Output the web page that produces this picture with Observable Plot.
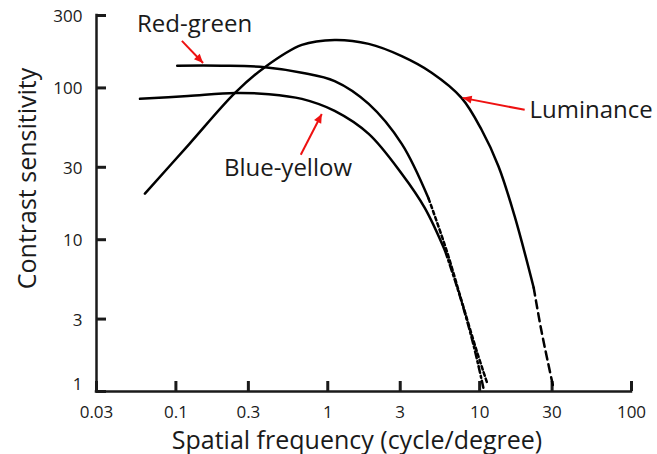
<!DOCTYPE html>
<html>
<head>
<meta charset="utf-8">
<script src="https://cdn.jsdelivr.net/npm/d3@7"></script>
<script src="https://cdn.jsdelivr.net/npm/@observablehq/plot@0.6"></script>
<style>
  html, body { margin: 0; padding: 0; background: #fff; }
</style>
</head>
<body>
<div id="chart"></div>
<script>
// ---- tick labels ----
const xTicks = [0.03, 0.1, 0.3, 1, 3, 10, 30, 100];
const yTicks = [1, 3, 10, 30, 100, 300];

// ---- Luminance (solid, then dashed extrapolation) ----
const luminanceFreq = [0.0625, 0.122, 0.245, 0.385, 0.675, 1.11, 1.86, 3.07, 4.83, 7.6, 10.3, 13.3, 17.0, 22.7];
const luminanceSens = [20.1, 42.5, 92.7, 137, 192, 207, 195, 162, 126, 86, 53, 30.5, 14.3, 4.83];
const luminanceTailFreq = [22.7, 25.5, 30.6];
const luminanceTailSens = [4.83, 2.52, 1.06];

// ---- Red-green ----
const redGreenFreq = [0.102, 0.2, 0.385, 0.675, 1.11, 1.86, 3.07, 4.62];
const redGreenSens = [140, 140, 137, 126, 111, 78.5, 42.8, 18.6];
const redGreenTailFreq = [4.62, 6.07, 7.6, 9.55, 11.3];
const redGreenTailSens = [18.6, 8.45, 3.97, 1.86, 1.11];

// ---- Blue-yellow ----
const blueYellowFreq = [0.058, 0.12, 0.245, 0.41, 0.675, 1.11, 1.86, 3.07, 4.35, 5.92];
const blueYellowSens = [84.7, 88.5, 92.7, 91, 84.7, 70.6, 49.8, 27.2, 16.2, 8.45];
const blueYellowTailFreq = [5.92, 7.4, 9.14, 10.6];
const blueYellowTailSens = [8.45, 4.28, 2.0, 1.05];

// ---- annotations (in data coordinates) ----
const labelNames = ["Red-green", "Blue-yellow", "Luminance"];
const labelFreq = [0.0554, 0.207, 21.3];
const labelSens = [262, 29.5, 71.1];
const arrowFromFreq = [0.1095, 0.664, 19.8];
const arrowFromSens = [204, 36.3, 71.7];
const arrowToFreq = [0.151, 0.913, 7.73];
const arrowToSens = [146, 67.4, 86];

const xTitle = "Spatial frequency (cycle/degree)";
const yTitle = "Contrast sensitivity";

// ---- build tables ----
const toRows = (series, xs, ys) => xs.map((x, i) => ({series, x, y: ys[i]}));
const solidRows = [
  ...toRows("Luminance", luminanceFreq, luminanceSens),
  ...toRows("Red-green", redGreenFreq, redGreenSens),
  ...toRows("Blue-yellow", blueYellowFreq, blueYellowSens)
];
const lumTail = toRows("Luminance", luminanceTailFreq, luminanceTailSens);
const rgTail = toRows("Red-green", redGreenTailFreq, redGreenTailSens);
const byTail = toRows("Blue-yellow", blueYellowTailFreq, blueYellowTailSens);
const labels = labelNames.map((name, i) => ({name, x: labelFreq[i], y: labelSens[i]}));
const arrows = labelNames.map((name, i) => ({
  name, x1: arrowFromFreq[i], y1: arrowFromSens[i], x2: arrowToFreq[i], y2: arrowToSens[i]
}));

const xMin = xTicks[0];
const yMin = yTicks[0];

// filled triangular arrowhead marker
function filledArrow(color) {
  const m = d3.create("svg:marker")
    .attr("viewBox", "-10 -5 10 10")
    .attr("markerWidth", 5)
    .attr("markerHeight", 5)
    .attr("orient", "auto")
    .attr("fill", color)
    .attr("stroke", "none");
  m.append("path").attr("d", "M-9,-4L0,0L-9,4Z");
  return m.node();
}

const W = 657, H = 454;
const mL = 96, mR = 26, mT = 15, mB = 63;
const tickLen = 10;
const axisStroke = 2.5;
const ink = "#1a1a1a";
const chart = Plot.plot({
  width: W,
  height: H,
  marginLeft: mL,
  marginRight: mR,
  marginTop: mT,
  marginBottom: mB,
  style: {fontFamily: "'Open Sans', sans-serif", color: ink, background: "#fff"},
  x: {type: "log", domain: [0.03, 100], axis: null},
  y: {type: "log", domain: [1, 300], axis: null},
  marks: [
    // axis lines
    Plot.ruleY([yMin], {strokeWidth: axisStroke, strokeLinecap: "square", stroke: ink}),
    Plot.ruleX([xMin], {strokeWidth: axisStroke, strokeLinecap: "square", stroke: ink}),
    // inward ticks (short ticks anchored to the axes)
    Plot.tickX(xTicks, {x: d => d, insetTop: (H - mT - mB) - tickLen, stroke: ink, strokeWidth: 3}),
    Plot.tickY(yTicks, {y: d => d, insetRight: (W - mL - mR) - tickLen, stroke: ink, strokeWidth: 3}),
    // tick labels
    Plot.text(xTicks, {x: d => d, y: yMin, text: d => String(d), dy: 21, fontSize: 17, lineAnchor: "middle", fill: ink}),
    Plot.text(yTicks.filter(d => d !== 1), {x: xMin, y: d => d, text: d => String(d), dx: -14, dy: 1, textAnchor: "end", fontSize: 17, lineAnchor: "middle", fill: ink}),
    Plot.text(yTicks.filter(d => d === 1), {x: xMin, y: d => d, text: d => String(d), dx: -14, dy: -7, textAnchor: "end", fontSize: 17, lineAnchor: "middle", fill: ink}),
    // curves
    Plot.line(solidRows, {x: "x", y: "y", z: "series", curve: "catmull-rom", stroke: "#000", strokeWidth: 2.5}),
    Plot.line(lumTail, {x: "x", y: "y", curve: "catmull-rom", stroke: "#000", strokeWidth: 2.5, strokeDasharray: "8,5"}),
    Plot.line(rgTail, {x: "x", y: "y", curve: "catmull-rom", stroke: "#000", strokeWidth: 2.5, strokeDasharray: "3.5,3"}),
    Plot.line(byTail, {x: "x", y: "y", curve: "catmull-rom", stroke: "#000", strokeWidth: 2.5, strokeDasharray: "7,3,2,3"}),
    // annotations
    Plot.link(arrows, {x1: "x1", y1: "y1", x2: "x2", y2: "y2", stroke: "#ee1111", strokeWidth: 2, markerEnd: filledArrow}),
    Plot.text(labels, {x: "x", y: "y", text: "name", textAnchor: "start", lineAnchor: "middle", fontSize: 24, fill: ink}),
    // axis titles
    Plot.text([xTitle], {text: d => d, frameAnchor: "bottom", textAnchor: "middle", dy: 49, dx: -7, fontSize: 25, lineAnchor: "middle", fill: ink}),
    Plot.text([yTitle], {text: d => d, frameAnchor: "left", textAnchor: "middle", rotate: -90, dx: -69, dy: -25, fontSize: 25, lineAnchor: "middle", fill: ink})
  ]
});
document.getElementById("chart").appendChild(chart);
</script>
</body>
</html>
